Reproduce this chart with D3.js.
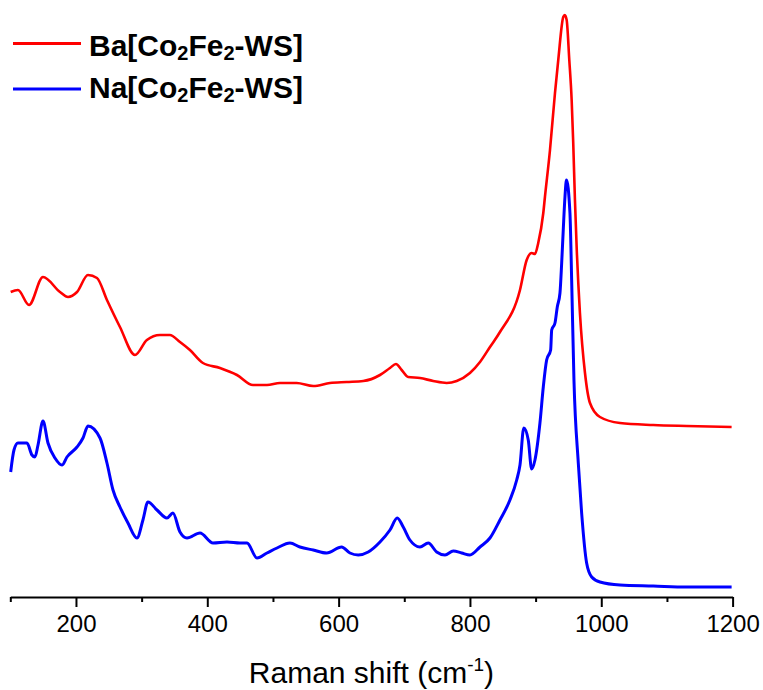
<!DOCTYPE html>
<html>
<head>
<meta charset="utf-8">
<script src="https://cdn.jsdelivr.net/npm/d3@7/dist/d3.min.js"></script>
<style>
  html, body { margin: 0; padding: 0; background: #fff; }
  svg { display: block; font-family: "Liberation Sans", Arial, sans-serif; }
</style>
</head>
<body>
<svg id="chart" width="763" height="690"></svg>
<script>
// Raman spectra (intensity in arbitrary units, spectra offset vertically)
const shiftBa = [100.6,111.7,128.5,149.8,175.7,187.9,201.6,218.3,232,247.2,267,289.9,308,327.9,343,358.4,373.6,393.4,419.3,445.2,469.6,490.9,510.7,536.1,561.4,586.8,612.3,637.5,663,678.2,687.3,696,706,723.9,744.1,764.5,779.8,800,815.3,830.5,845.7,876.2,886.4,894,899,904,911.7,914.2,921.9,929.5,934.5,942.1,944.5,947.3,951.3,954.9,957.3,959.9,962.5,967.5,975.2,982.8,998,1028.5,1079.2,1130,1198.5];
const intensityBa = [305,307,292,320,305,300,305,322,319,297,270,242,257,262,262,255,247,234,229,222,212,212,214,214,211,214,215,216,222,229,233,227,220,219,216,214,216,224,235,250,265,307,337,344,343,354,384,400,447,504,537,580,582,577,537,497,454,397,350,284,224,194,180,174,172,171,170];

const shiftNa = [100.6,105.6,111.7,125.4,133,137.6,142.2,149.8,157.4,168,178.7,186.3,201.6,210.7,218.3,236.6,247.2,256.4,267,279.2,292.9,302,309.6,323.4,338.6,347.7,358.4,369.1,388.9,408.7,430,449.8,460.5,475.7,490.9,506.2,525.9,541.1,561.4,581.8,604.6,617.2,629.9,645.1,663,678.2,689.3,698.4,708.6,723.9,736.5,749.3,762,774.6,787.4,800,815.3,830.5,845.7,860.9,871.2,876.2,882,888.8,894,899,906.6,911.7,916.8,922.9,924.5,929.5,933,937.1,939.7,942.1,944.7,947,952.3,954.9,958.4,965,970.1,977.7,985.4,998,1028.5,1079.2,1130,1198.5];
const intensityNa = [125,147,154,154,142,140,152,176,154,139,132,140,150,159,171,159,134,107,90,74,59,77,95,87,79,84,65,59,64,54,55,54,54,39,44,49,54,50,47,44,50,44,42,45,55,67,79,70,57,50,54,45,42,46,44,42,50,59,77,97,117,132,169,157,128,137,174,210,237,247,267,274,290,304,334,367,400,417,384,317,217,134,84,34,20,15,12,11,10,10];

const seriesNames = ["Ba[Co2Fe2-WS]", "Na[Co2Fe2-WS]"];
const seriesColors = ["#ff0000", "#0000ff"];

const majorTicks = [200, 400, 600, 800, 1000, 1200];
const minorTicks = [100, 300, 500, 700, 900, 1100];
const xTitle = "Raman shift (cm";

const svg = d3.select("#chart");
const W = 763, H = 690;
svg.append("rect").attr("width", W).attr("height", H).attr("fill", "#fff");

const plot = { left: 10.3, right: 732.6, top: 7, bottom: 597 };

const x = d3.scaleLinear().domain([100, 1200]).range([plot.left, plot.right]);
const y = d3.scaleLinear().domain([0, 590]).range([plot.bottom, plot.top]);

const series = [
  { name: seriesNames[0], color: seriesColors[0], xs: shiftBa, ys: intensityBa, width: 2.6 },
  { name: seriesNames[1], color: seriesColors[1], xs: shiftNa, ys: intensityNa, width: 3 }
];

const line = d3.line()
  .x(d => x(d[0]))
  .y(d => y(d[1]))
  .curve(d3.curveMonotoneX);

series.forEach(s => {
  svg.append("path")
    .datum(s.xs.map((v, i) => [v, s.ys[i]]))
    .attr("fill", "none")
    .attr("stroke", s.color)
    .attr("stroke-width", s.width)
    .attr("stroke-linejoin", "round")
    .attr("d", line);
});

// bottom axis: major ticks with labels, minor ticks without
const axisG = svg.append("g").attr("transform", `translate(0,${plot.bottom})`);
axisG.call(d3.axisBottom(x).tickValues(majorTicks).tickSize(10).tickSizeOuter(0).tickPadding(8).tickFormat(d3.format("d")));
axisG.select(".domain").attr("stroke", "#000").attr("stroke-width", 2);
axisG.selectAll(".tick line").attr("stroke", "#000").attr("stroke-width", 2);
axisG.selectAll(".tick text")
  .attr("fill", "#000")
  .style("font-size", "24px")
  .style("font-family", "'Liberation Sans', Arial, sans-serif");

const minorG = svg.append("g").attr("transform", `translate(0,${plot.bottom})`);
minorG.call(d3.axisBottom(x).tickValues(minorTicks).tickSize(5).tickSizeOuter(0).tickFormat(""));
minorG.select(".domain").remove();
minorG.selectAll(".tick line").attr("stroke", "#000").attr("stroke-width", 2);

// axis title with superscript
const title = svg.append("text")
  .attr("x", (plot.left + plot.right) / 2)
  .attr("y", 683)
  .attr("text-anchor", "middle")
  .attr("fill", "#000")
  .style("font-size", "30px");
title.append("tspan").text(xTitle);
title.append("tspan").attr("dy", -12).style("font-size", "19px").text("-1");
title.append("tspan").attr("dy", 12).text(")");

// legend
const legendY = [43.5, 89];
const baselines = [56, 97.5];
series.forEach((s, i) => {
  svg.append("line")
    .attr("x1", 13).attr("x2", 81)
    .attr("y1", legendY[i]).attr("y2", legendY[i])
    .attr("stroke", s.color).attr("stroke-width", 3);
  const t = svg.append("text")
    .attr("x", 89).attr("y", baselines[i])
    .attr("fill", "#000")
    .style("font-size", "30px")
    .style("font-weight", "bold");
  // split name so that the "2" after Co and Fe becomes subscript
  const parts = s.name.split(/(2)/);
  let sub = false;
  parts.forEach(p => {
    if (p === "2") {
      t.append("tspan").attr("dy", 4).style("font-size", "20px").text("2");
      sub = true;
    } else if (p.length) {
      const ts = t.append("tspan").text(p);
      if (sub) { ts.attr("dy", -4); sub = false; }
    }
  });
});
</script>
</body>
</html>
